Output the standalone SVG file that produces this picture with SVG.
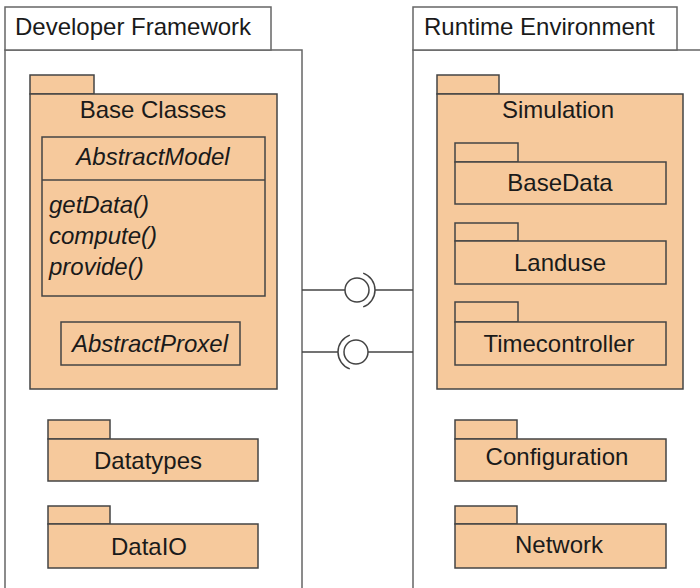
<svg xmlns="http://www.w3.org/2000/svg" width="700" height="588" viewBox="0 0 700 588">
<style>
.frame{fill:#fff;stroke:#666;stroke-width:1.5}
.pkg{fill:#F6C99C;stroke:#444;stroke-width:1.5}
.box{fill:none;stroke:#444;stroke-width:1.5}
.t{font-family:"Liberation Sans",Arial,sans-serif;font-size:24px;fill:#1a1a1a}
.c{text-anchor:middle}
.i{font-style:italic}
.ln{fill:none;stroke:#444;stroke-width:1.5}
</style>
<rect width="700" height="588" fill="#fff"/>
<g id="developer-framework">
<rect class="frame" x="5" y="50" width="297" height="545"/>
<rect class="frame" x="5" y="7" width="266" height="43"/>
<text class="t" x="15" y="35">Developer Framework</text>
</g>
<g id="runtime-environment">
<rect class="frame" x="413" y="50" width="300" height="545"/>
<rect class="frame" x="413" y="7" width="264" height="43"/>
<text class="t" x="424" y="35">Runtime Environment</text>
</g>
<g id="base-classes">
<rect class="pkg" x="30" y="75" width="64" height="19"/>
<rect class="pkg" x="30" y="94" width="247" height="295"/>
<text class="t c" x="153" y="118">Base Classes</text>
</g>
<g id="abstract-model">
<rect class="box" x="42" y="137" width="223" height="159"/>
<line class="box" x1="42" y1="180" x2="265" y2="180"/>
<text class="t c i" x="153" y="165">AbstractModel</text>
<text class="t i" x="49" y="213">getData()</text>
<text class="t i" x="49" y="244">compute()</text>
<text class="t i" x="49" y="275">provide()</text>
</g>
<g id="abstract-proxel">
<rect class="box" x="61" y="322" width="179" height="43"/>
<text class="t c i" x="150" y="352">AbstractProxel</text>
</g>
<g id="datatypes">
<rect class="pkg" x="48" y="420" width="62" height="19"/>
<rect class="pkg" x="48" y="439" width="210" height="42"/>
<text class="t c" x="148" y="469">Datatypes</text>
</g>
<g id="dataio">
<rect class="pkg" x="48" y="506" width="62" height="18"/>
<rect class="pkg" x="48" y="524" width="210" height="44"/>
<text class="t c" x="149" y="555">DataIO</text>
</g>
<g id="simulation">
<rect class="pkg" x="437" y="75" width="62" height="19"/>
<rect class="pkg" x="437" y="94" width="246" height="295"/>
<text class="t c" x="558" y="118">Simulation</text>
</g>
<g id="basedata">
<rect class="pkg" x="455" y="143" width="63" height="19"/>
<rect class="pkg" x="455" y="162" width="211" height="42"/>
<text class="t c" x="560" y="191">BaseData</text>
</g>
<g id="landuse">
<rect class="pkg" x="455" y="223" width="63" height="18"/>
<rect class="pkg" x="455" y="241" width="211" height="43"/>
<text class="t c" x="560" y="271">Landuse</text>
</g>
<g id="timecontroller">
<rect class="pkg" x="455" y="302" width="63" height="20"/>
<rect class="pkg" x="455" y="322" width="211" height="43"/>
<text class="t c" x="559" y="352">Timecontroller</text>
</g>
<g id="configuration">
<rect class="pkg" x="455" y="420" width="62" height="19"/>
<rect class="pkg" x="455" y="439" width="211" height="42"/>
<text class="t c" x="557" y="465">Configuration</text>
</g>
<g id="network">
<rect class="pkg" x="455" y="506" width="62" height="18"/>
<rect class="pkg" x="455" y="524" width="211" height="44"/>
<text class="t c" x="559" y="553">Network</text>
</g>
<g id="connectors">
<line class="ln" x1="302" y1="290" x2="345" y2="290"/>
<circle class="ln" cx="357" cy="290" r="12"/>
<path class="ln" d="M 363.2 273.1 A 18 18 0 0 1 363.2 306.9"/>
<line class="ln" x1="375" y1="290" x2="413" y2="290"/>
<line class="ln" x1="302" y1="352" x2="338" y2="352"/>
<circle class="ln" cx="356" cy="352" r="12"/>
<path class="ln" d="M 349.8 335.1 A 18 18 0 0 0 349.8 368.9"/>
<line class="ln" x1="368" y1="352" x2="413" y2="352"/>
</g>
</svg>
